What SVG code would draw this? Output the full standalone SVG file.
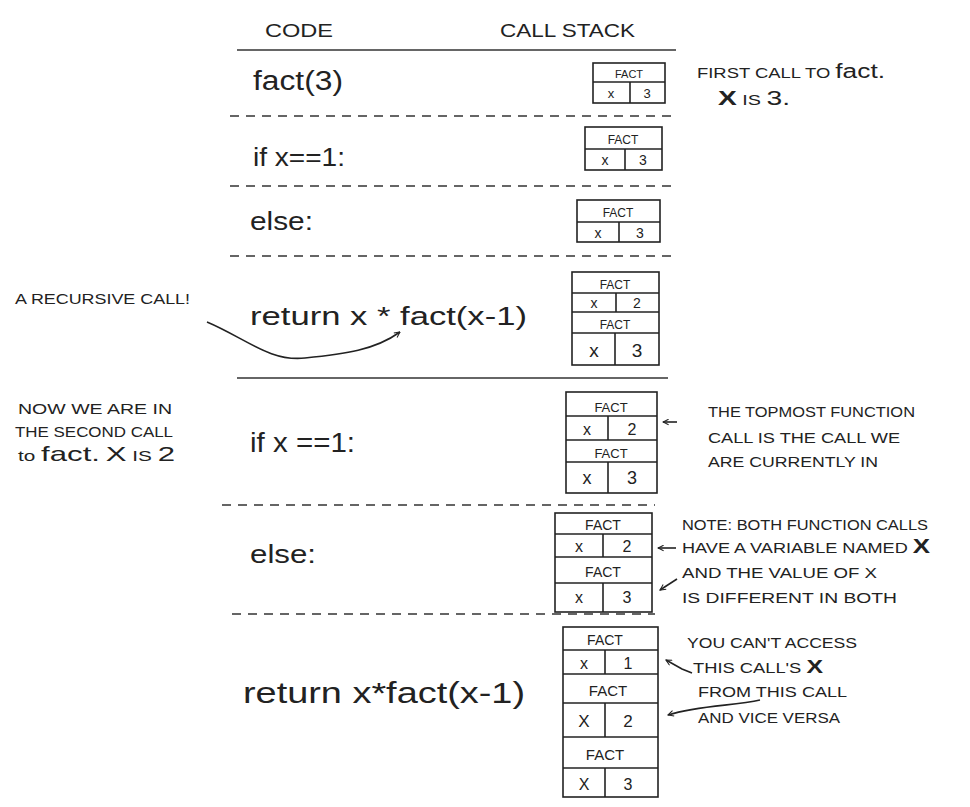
<svg xmlns="http://www.w3.org/2000/svg" width="970" height="807" viewBox="0 0 970 807">
<defs>
<style>
.code{font-family:"Liberation Sans",Arial,sans-serif;fill:#222;}
.note{font-family:"Liberation Sans",Arial,sans-serif;font-size:14px;fill:#222;}
.hdr{font-family:"Liberation Sans",Arial,sans-serif;font-size:18px;fill:#222;}
.box{fill:#fff;stroke:#222;stroke-width:1.6;}
.ln{stroke:#222;stroke-width:1.6;fill:none;}
.bt{font-family:"Liberation Sans",Arial,sans-serif;fill:#222;text-anchor:middle;}
.dash{stroke:#333;stroke-width:1.3;stroke-dasharray:9 7;fill:none;}
.rule{stroke:#333;stroke-width:1.6;fill:none;}
.arr{stroke:#222;stroke-width:1.6;fill:none;marker-end:url(#ah);}
</style>
<marker id="ah" viewBox="0 0 10 10" refX="9" refY="5" markerWidth="7" markerHeight="7" orient="auto" markerUnits="userSpaceOnUse">
<path d="M1,1 L9,5 L1,9" fill="none" stroke="#222" stroke-width="1.5"/>
</marker>
</defs>
<rect width="970" height="807" fill="#fff"/>

<g id="headers">
<text class="hdr" x="265" y="37" textLength="68" lengthAdjust="spacingAndGlyphs">CODE</text>
<text class="hdr" x="500" y="37" textLength="135" lengthAdjust="spacingAndGlyphs">CALL STACK</text>
<line class="rule" x1="237" y1="50" x2="676" y2="50"/>
<line class="rule" x1="237" y1="378" x2="668" y2="378"/>
<line class="dash" x1="230" y1="116" x2="673" y2="116"/>
<line class="dash" x1="230" y1="186" x2="672" y2="186"/>
<line class="dash" x1="230" y1="256" x2="672" y2="256"/>
<line class="dash" x1="222" y1="505" x2="655" y2="505"/>
<line class="dash" x1="232" y1="614" x2="655" y2="614"/>
</g>

<g id="code">
<text class="code" x="253" y="90" font-size="27" textLength="90" lengthAdjust="spacingAndGlyphs">fact(3)</text>
<text class="code" x="253" y="166" font-size="26" textLength="92" lengthAdjust="spacingAndGlyphs">if x==1:</text>
<text class="code" x="250" y="230" font-size="26" textLength="63" lengthAdjust="spacingAndGlyphs">else:</text>
<text class="code" x="250" y="325" font-size="26" textLength="277" lengthAdjust="spacingAndGlyphs">return x * fact(x-1)</text>
<text class="code" x="250" y="452" font-size="28" textLength="105" lengthAdjust="spacingAndGlyphs">if x ==1:</text>
<text class="code" x="250" y="563" font-size="26" textLength="66" lengthAdjust="spacingAndGlyphs">else:</text>
<text class="code" x="243" y="703" font-size="29" textLength="282" lengthAdjust="spacingAndGlyphs">return x*fact(x-1)</text>
</g>

<g id="frame1">
<rect class="box" x="593" y="63" width="72" height="40"/>
<line class="ln" x1="593" y1="82" x2="665" y2="82"/>
<line class="ln" x1="630" y1="82" x2="630" y2="103"/>
<text class="bt" x="629" y="78" font-size="11">FACT</text>
<text class="bt" x="611" y="98" font-size="13">x</text>
<text class="bt" x="647" y="98" font-size="13">3</text>
</g>

<g id="frame2">
<rect class="box" x="585" y="127" width="77" height="43"/>
<line class="ln" x1="585" y1="149" x2="662" y2="149"/>
<line class="ln" x1="625" y1="149" x2="625" y2="170"/>
<text class="bt" x="623" y="144" font-size="12">FACT</text>
<text class="bt" x="605" y="165" font-size="14">x</text>
<text class="bt" x="643" y="165" font-size="14">3</text>
</g>

<g id="frame3">
<rect class="box" x="577" y="200" width="83" height="42"/>
<line class="ln" x1="577" y1="222" x2="660" y2="222"/>
<line class="ln" x1="619" y1="222" x2="619" y2="242"/>
<text class="bt" x="618" y="217" font-size="12">FACT</text>
<text class="bt" x="598" y="238" font-size="14">x</text>
<text class="bt" x="640" y="238" font-size="14">3</text>
</g>

<g id="frame4">
<rect class="box" x="572" y="272" width="87" height="93"/>
<line class="ln" x1="572" y1="293" x2="659" y2="293"/>
<line class="ln" x1="572" y1="312" x2="659" y2="312"/>
<line class="ln" x1="572" y1="333" x2="659" y2="333"/>
<line class="ln" x1="616" y1="293" x2="616" y2="312"/>
<line class="ln" x1="615" y1="333" x2="615" y2="365"/>
<text class="bt" x="615" y="289" font-size="12">FACT</text>
<text class="bt" x="594" y="308" font-size="14">x</text>
<text class="bt" x="637" y="308" font-size="14">2</text>
<text class="bt" x="615" y="329" font-size="12">FACT</text>
<text class="bt" x="594" y="357" font-size="19">x</text>
<text class="bt" x="637" y="357" font-size="19">3</text>
</g>

<g id="frame5">
<rect class="box" x="566" y="392" width="91" height="101"/>
<line class="ln" x1="566" y1="416" x2="657" y2="416"/>
<line class="ln" x1="566" y1="440" x2="657" y2="440"/>
<line class="ln" x1="566" y1="462" x2="657" y2="462"/>
<line class="ln" x1="608" y1="416" x2="608" y2="440"/>
<line class="ln" x1="608" y1="462" x2="608" y2="493"/>
<text class="bt" x="611" y="412" font-size="13">FACT</text>
<text class="bt" x="587" y="435" font-size="16">x</text>
<text class="bt" x="632" y="435" font-size="16">2</text>
<text class="bt" x="611" y="458" font-size="13">FACT</text>
<text class="bt" x="587" y="484" font-size="18">x</text>
<text class="bt" x="632" y="484" font-size="18">3</text>
</g>

<g id="frame6">
<rect class="box" x="555" y="513" width="97" height="99"/>
<line class="ln" x1="555" y1="534" x2="652" y2="534"/>
<line class="ln" x1="555" y1="557" x2="652" y2="557"/>
<line class="ln" x1="555" y1="583" x2="652" y2="583"/>
<line class="ln" x1="603" y1="534" x2="603" y2="557"/>
<line class="ln" x1="603" y1="583" x2="603" y2="612"/>
<text class="bt" x="603" y="530" font-size="14">FACT</text>
<text class="bt" x="579" y="552" font-size="16">x</text>
<text class="bt" x="627" y="552" font-size="16">2</text>
<text class="bt" x="603" y="577" font-size="14">FACT</text>
<text class="bt" x="579" y="603" font-size="16">x</text>
<text class="bt" x="627" y="603" font-size="16">3</text>
</g>

<g id="frame7">
<rect class="box" x="563" y="627" width="95" height="170"/>
<line class="ln" x1="563" y1="650" x2="658" y2="650"/>
<line class="ln" x1="563" y1="674" x2="658" y2="674"/>
<line class="ln" x1="563" y1="703" x2="658" y2="703"/>
<line class="ln" x1="563" y1="737" x2="658" y2="737"/>
<line class="ln" x1="563" y1="768" x2="658" y2="768"/>
<line class="ln" x1="605" y1="650" x2="605" y2="674"/>
<line class="ln" x1="605" y1="703" x2="605" y2="737"/>
<line class="ln" x1="605" y1="768" x2="605" y2="797"/>
<text class="bt" x="605" y="645" font-size="14">FACT</text>
<text class="bt" x="584" y="669" font-size="16">x</text>
<text class="bt" x="628" y="669" font-size="16">1</text>
<text class="bt" x="608" y="696" font-size="15">FACT</text>
<text class="bt" x="584" y="727" font-size="17">X</text>
<text class="bt" x="628" y="727" font-size="17">2</text>
<text class="bt" x="605" y="760" font-size="15">FACT</text>
<text class="bt" x="584" y="790" font-size="16">X</text>
<text class="bt" x="628" y="790" font-size="16">3</text>
</g>

<g id="notes">
<text class="note" x="697" y="78" textLength="188" lengthAdjust="spacingAndGlyphs">FIRST CALL TO <tspan font-size="20">fact.</tspan></text>
<text class="note" x="718" y="105" textLength="72" lengthAdjust="spacingAndGlyphs"><tspan font-size="20" font-weight="bold">X</tspan> IS <tspan font-size="20">3.</tspan></text>
<text class="note" x="15" y="304" font-size="13" textLength="175" lengthAdjust="spacingAndGlyphs">A RECURSIVE CALL!</text>
<text class="note" x="18" y="414" font-size="13" textLength="154" lengthAdjust="spacingAndGlyphs">NOW WE ARE IN</text>
<text class="note" x="15" y="437" font-size="13" textLength="158" lengthAdjust="spacingAndGlyphs">THE SECOND CALL</text>
<text class="note" x="18" y="461" textLength="157" lengthAdjust="spacingAndGlyphs">to <tspan font-size="21">fact.</tspan> <tspan font-size="21">X</tspan> IS <tspan font-size="21">2</tspan></text>
<text class="note" x="708" y="417" textLength="207" lengthAdjust="spacingAndGlyphs">THE TOPMOST FUNCTION</text>
<text class="note" x="708" y="443" textLength="192" lengthAdjust="spacingAndGlyphs">CALL IS THE CALL WE</text>
<text class="note" x="708" y="467" textLength="170" lengthAdjust="spacingAndGlyphs">ARE CURRENTLY IN</text>
<text class="note" x="682" y="530" textLength="246" lengthAdjust="spacingAndGlyphs">NOTE: BOTH FUNCTION CALLS</text>
<text class="note" x="682" y="553" textLength="248" lengthAdjust="spacingAndGlyphs">HAVE A VARIABLE NAMED <tspan font-size="20" font-weight="bold">X</tspan></text>
<text class="note" x="682" y="578" textLength="195" lengthAdjust="spacingAndGlyphs">AND THE VALUE OF X</text>
<text class="note" x="682" y="603" textLength="215" lengthAdjust="spacingAndGlyphs">IS DIFFERENT IN BOTH</text>
<text class="note" x="687" y="648" textLength="170" lengthAdjust="spacingAndGlyphs">YOU CAN'T ACCESS</text>
<text class="note" x="693" y="673" textLength="130" lengthAdjust="spacingAndGlyphs">THIS CALL'S <tspan font-size="19" font-weight="bold">X</tspan></text>
<text class="note" x="698" y="697" textLength="149" lengthAdjust="spacingAndGlyphs">FROM THIS CALL</text>
<text class="note" x="698" y="723" textLength="142" lengthAdjust="spacingAndGlyphs">AND VICE VERSA</text>
</g>

<g id="connectors">
<path class="arr" d="M207,322 C245,338 270,362 305,358 C345,354 375,350 400,332"/>
<line class="arr" x1="677" y1="422" x2="663" y2="422"/>
<line class="arr" x1="676" y1="548" x2="658" y2="548"/>
<line class="arr" x1="677" y1="579" x2="660" y2="590"/>
<path class="arr" d="M692,673 L682,669 L666,660"/>
<path class="arr" d="M760,700 C735,706 700,705 668,715"/>
</g>
</svg>
